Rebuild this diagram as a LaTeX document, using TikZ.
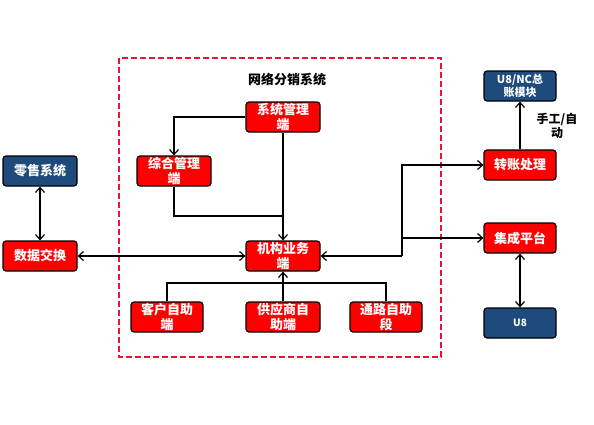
\documentclass[tikz,border=0pt]{standalone}
\usepackage{fontspec}
\setmainfont{Noto Sans CJK SC}
\usetikzlibrary{arrows.meta}
\definecolor{boxred}{HTML}{FF0000}
\definecolor{boxblue}{HTML}{1F4A7C}
\definecolor{framered}{HTML}{EE1133}

\begin{document}
\begin{tikzpicture}[x=1pt,y=-1pt,
  redbox/.style={draw=black,line width=1.2pt,fill=boxred,rounded corners=3pt,
    minimum width=74pt,minimum height=30pt,inner sep=1pt,text=white,
    font=\fontsize{13}{15}\selectfont\bfseries,align=center},
  bluebox/.style={redbox,fill=boxblue},
  link/.style={line width=1.2pt,-{Straight Barb[length=5pt,width=9pt]}},
  both/.style={line width=1.2pt,{Straight Barb[length=5pt,width=9pt]}-{Straight Barb[length=5pt,width=9pt]}}]
  \useasboundingbox (0,0) rectangle (594,424);
  \draw[framered,line width=1.2pt,dash pattern=on 6pt off 3pt] (119,58) rectangle (441,357);
  \node[font=\fontsize{13}{15}\selectfont\bfseries] (title) at (287,80) {网络分销系统};
  \node[redbox] (xtgl) at (283,117) {系统管理\\端};
  \node[redbox] (zhgl) at (174,171) {综合管理\\端};
  \node[redbox] (jgyw) at (283,256) {机构业务\\端};
  \node[redbox,minimum width=72pt] (khzz) at (167,317) {客户自助\\端};
  \node[redbox] (gys) at (283,317) {供应商自\\助端};
  \node[redbox,minimum width=72pt] (tlzz) at (386,317) {通路自助\\段};
  \node[bluebox] (lsxt) at (40,171) {零售系统};
  \node[redbox] (sjjh) at (40,256) {数据交换};
  \node[bluebox,minimum width=72pt,font=\fontsize{11}{13}\selectfont\bfseries] (zzmk) at (520,86) {U8/NC总\\账模块};
  \node[redbox,minimum width=72pt] (zzcl) at (520,165) {转账处理};
  \node[redbox,minimum width=72pt] (jcpt) at (520,238) {集成平台};
  \node[bluebox,minimum width=72pt,font=\fontsize{10}{12}\selectfont\bfseries] (u8) at (520,323) {U8};
  \node[font=\fontsize{12}{14}\selectfont\bfseries,align=center] (sgzd) at (557,126) {手工/自\\动};
  % inner links
  \coordinate (zjoin) at (283,216);
  \coordinate (bbar) at (283,283);
  \draw[link] (xtgl.west) -| (zhgl.north);
  \draw[link] (xtgl.south) -- (jgyw.north);
  \draw[line width=1.2pt] (zhgl.south) |- (zjoin);
  \draw[line width=1.2pt] (khzz.north) |- (bbar) -| (tlzz.north);
  \draw[link] (gys.north) -- (jgyw.south);
  % outer links
  \coordinate (rbus) at (402,256);
  \coordinate (rjc) at (402,238);
  \draw[both] (lsxt) -- (sjjh);
  \draw[both] (sjjh) -- (jgyw);
  \draw[link] (rbus) -- (jgyw.east);
  \draw[link] (rbus) |- (zzcl.west);
  \draw[link] (rjc) -- (jcpt.west);
  \draw[link] (zzcl) -- (zzmk);
  \draw[both] (jcpt) -- (u8);
\end{tikzpicture}
\end{document}
